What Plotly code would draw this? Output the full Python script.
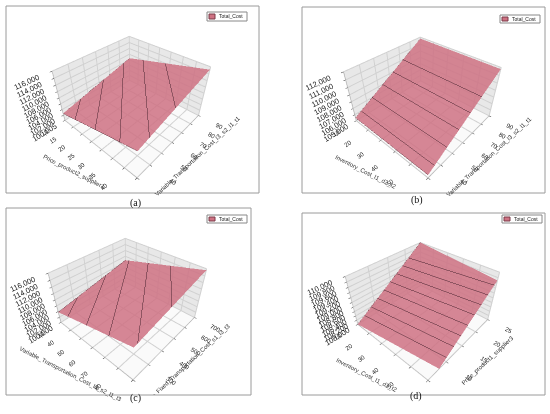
import plotly.graph_objects as go

W, H = 550, 414

# ---- data (corner values of each Total_Cost plane)
a_x = [10, 45]
a_y = [30, 90]
a_z = [[102600, 109200], [108600, 115200]]
a_xticks = [10, 15, 20, 25, 30, 35, 40, 45]
a_yticks = [30, 40, 50, 60, 70, 80, 90]
a_zticks = [100005, 102000, 104000, 106000, 108000, 110000, 112000, 114000, 116000]

b_x = [10, 60]
b_y = [30, 90]
b_z = [[105500, 105500], [111800, 111800]]
b_xticks = [10, 20, 30, 40, 50, 60]
b_yticks = [30, 40, 50, 60, 70, 80, 90]
b_zticks = [105000, 106000, 107000, 108000, 109000, 110000, 111000, 112000]

c_x = [30, 90]
c_y = [200, 700]
c_z = [[103800, 110800], [108600, 115600]]
c_xticks = [30, 40, 50, 60, 70, 80, 90]
c_yticks = [200, 300, 400, 500, 600, 700]
c_zticks = [100000, 102000, 104000, 106000, 108000, 110000, 112000, 114000, 116000]

d_x = [10, 60]
d_y = [5, 25]
d_z = [[108000, 107700], [110000, 109700]]
d_xticks = [10, 20, 30, 40, 50, 60]
d_yticks = [5, 10, 15, 20, 25]
d_zticks = [108000, 108200, 108400, 108600, 108800, 109000, 109200, 109400, 109600, 109800, 110000]

panels = [
    dict(name="a", x=a_x, y=a_y, z=a_z, xt=a_xticks, yt=a_yticks, zt=a_zticks,
         xtitle="Price_product2_supplier1",
         ytitle="Variable_Transportation_Cost_I3_s2_l1_t1",
         lines=(104000, 114000, 2000), box=(6, 6, 259, 193), leg=(207, 12, 247, 21),
         label=(128, 203)),
    dict(name="b", x=b_x, y=b_y, z=b_z, xt=b_xticks, yt=b_yticks, zt=b_zticks,
         xtitle="Inventory_Cost_I1_d2_t2",
         ytitle="Variable_Transportation_Cost_I3_s2_l1_t1",
         lines=(106000, 111000, 1000), box=(302, 7, 545, 193), leg=(500, 15, 540, 23),
         label=(425, 200)),
    dict(name="c", x=c_x, y=c_y, z=c_z, xt=c_xticks, yt=c_yticks, zt=c_zticks,
         xtitle="Variable_Transportation_Cost_I3_s2_l1_t3",
         ytitle="Fixed_Transportation_Cost_s1_l3_t3",
         lines=(105000, 115000, 2000), box=(6, 208, 251, 395), leg=(207, 215, 247, 223),
         label=(128, 406)),
    dict(name="d", x=d_x, y=d_y, z=d_z, xt=d_xticks, yt=d_yticks, zt=d_zticks,
         xtitle="Inventory_Cost_I1_d2_t2",
         ytitle="Price_product1_supplier3",
         lines=(108200, 109800, 200), box=(302, 213, 545, 395), leg=(502, 215, 542, 223),
         label=(424, 404)),
]

PINK = "#cf7283"
LINE = "#4a2430"
TITLE_FONT = dict(size=6, color="#333", family="Liberation Sans")


def px(x):
    return x / W


def py(y):
    return 1 - y / H


def axis(ticks, wall, tsize):
    return dict(
        title=dict(text=""),
        range=[ticks[0], ticks[-1]], tickvals=ticks, tickformat=",",
        tickfont=dict(size=tsize, color="#222", family="Liberation Sans"),
        showbackground=True, backgroundcolor=wall,
        gridcolor="#d0d0d0", linecolor="#a8a8a8", showline=True,
        zeroline=False, showspikes=False, ticks="outside", ticklen=2,
    )


def axis_title(text, x, y, z, ax, ay, angle):
    # title text pushed off the axis edge by a transparent arrow
    return dict(x=x, y=y, z=z, text=text, textangle=angle, font=TITLE_FONT,
                showarrow=True, arrowcolor="rgba(0,0,0,0)", arrowwidth=0.1,
                arrowhead=0, ax=ax, ay=ay)


fig = go.Figure()
shapes, annotations = [], []

for i, p in enumerate(panels):
    sid = "scene" if i == 0 else f"scene{i + 1}"
    x0, y0, x1, y1 = p["box"]
    xs, ys, zs = p["xt"], p["yt"], p["zt"]
    fig.add_trace(go.Surface(
        x=p["x"], y=p["y"], z=p["z"], scene=sid,
        colorscale=[[0, PINK], [1, PINK]], showscale=False, opacity=0.85,
        lighting=dict(ambient=1, diffuse=0, specular=0, fresnel=0, roughness=1),
        contours=dict(
            z=dict(show=True, start=p["lines"][0], end=p["lines"][1], size=p["lines"][2],
                   color=LINE, width=2),
            x=dict(show=True, start=p["x"][0], end=p["x"][1], size=p["x"][1] - p["x"][0],
                   color="#6b3a45", width=1),
            y=dict(show=True, start=p["y"][0], end=p["y"][1], size=p["y"][1] - p["y"][0],
                   color="#6b3a45", width=1),
        ),
        hoverinfo="skip", name="Total_Cost",
    ))
    fig.update_layout({sid: dict(
        domain=dict(x=[px(x0), px(x1)], y=[py(y1), py(y0)]),
        xaxis=axis(xs, "#e8e8e8", 8.5),
        yaxis=axis(ys, "#e8e8e8", 8.5),
        zaxis=axis(zs, "#fafafa", 9.5),
        aspectmode="manual", aspectratio=dict(x=1, y=1, z=0.6),
        camera=dict(eye=dict(x=1.16, y=-1.289, z=1.354), center=dict(x=0, y=0, z=-0.05)),
        bgcolor="white",
        annotations=[
            axis_title(p["xtitle"], (xs[0] + xs[-1]) / 2, ys[0], zs[0], -22, 26, 27),
            axis_title(p["ytitle"], xs[-1], (ys[0] + ys[-1]) / 2, zs[0], 26, 14, -43),
        ],
    )})

    # panel frame
    shapes.append(dict(type="rect", xref="paper", yref="paper",
                       x0=px(x0), x1=px(x1), y0=py(y1), y1=py(y0),
                       line=dict(color="#9a9a9a", width=1), fillcolor="rgba(0,0,0,0)"))
    # legend box
    lx0, ly0, lx1, ly1 = p["leg"]
    shapes.append(dict(type="rect", xref="paper", yref="paper",
                       x0=px(lx0), x1=px(lx1), y0=py(ly1), y1=py(ly0),
                       line=dict(color="#888888", width=1), fillcolor="white"))
    shapes.append(dict(type="rect", xref="paper", yref="paper",
                       x0=px(lx0 + 2), x1=px(lx0 + 8), y0=py(ly1 - 2), y1=py(ly0 + 2),
                       line=dict(color="#7a3a48", width=1), fillcolor=PINK))
    annotations.append(dict(xref="paper", yref="paper", x=px(lx0 + 10), y=py((ly0 + ly1) / 2),
                            text="Total_Cost", showarrow=False, xanchor="left", yanchor="middle",
                            font=dict(size=5, color="#222", family="Liberation Sans")))
    # (a)-(d) caption
    annotations.append(dict(xref="paper", yref="paper", x=px(p["label"][0]), y=py(p["label"][1]),
                            text=f"({p['name']})", showarrow=False,
                            font=dict(size=10, color="#111", family="Liberation Serif")))

fig.update_layout(
    width=W, height=H, margin=dict(l=0, r=0, t=0, b=0),
    paper_bgcolor="white", showlegend=False,
    shapes=shapes, annotations=annotations,
)

# drop the page's default body margin so the 550x414 figure sits at the window origin
fig.write_html("out.html", config=dict(displayModeBar=False),
               post_script="document.body.style.margin='0';document.body.style.overflow='hidden';")
